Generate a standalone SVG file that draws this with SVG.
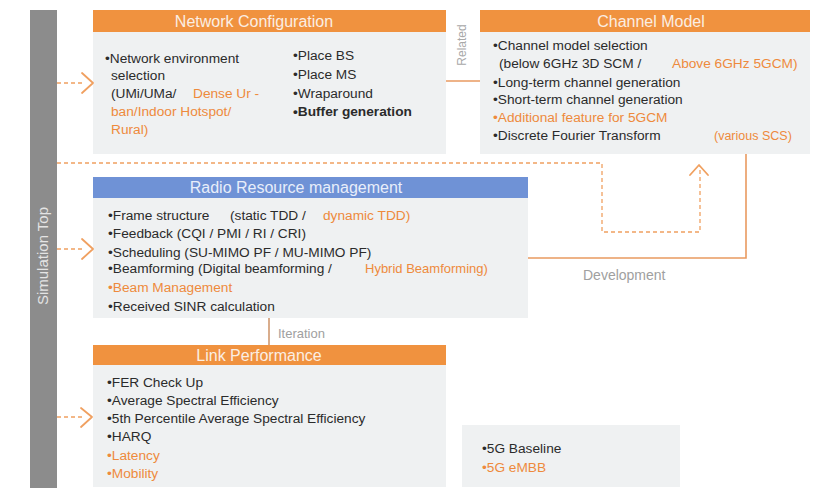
<svg xmlns="http://www.w3.org/2000/svg" width="819" height="491" viewBox="0 0 819 491">
<style>
text{font-family:"Liberation Sans",Arial,sans-serif}
.hd{font-size:16px;fill:#fbeee3;text-anchor:middle}
.hdb{font-size:16px;fill:#e8eefa;text-anchor:middle}
.t{font-size:13.7px;fill:#2b2b2b}
.o{fill:#ee8a3c}
.b{font-weight:bold}
.lbl{font-size:14px;fill:#a0a0a0}
.body{fill:#eff1f2}
.hor{fill:#f0923f}
.dash{fill:none;stroke:#f0a060;stroke-width:1.3;stroke-dasharray:4 3}
.chev{fill:none;stroke:#f0a060;stroke-width:1.8;stroke-linecap:round;stroke-linejoin:round}
.solid{fill:none;stroke:#e99a60;stroke-width:1.6}
</style>
<rect width="819" height="491" fill="#ffffff"/>
<g id="simtop">
<rect x="30" y="10" width="27" height="478" fill="#8c8c8c"/>
<text transform="translate(48,256) rotate(-90)" text-anchor="middle" style="font-size:15px;fill:#e4e4e4">Simulation  Top</text>
</g>
<g id="netconf">
<rect class="hor" x="93" y="10" width="353" height="22"/>
<rect class="body" x="93" y="32" width="353" height="122"/>
<text class="hd" x="254" y="27">Network Configuration</text>
<text class="t" x="105" y="63">•Network environment</text>
<text class="t" x="111" y="80">selection</text>
<text class="t" x="111" y="98">(UMi/UMa/</text>
<text class="t o" x="193" y="98">Dense Ur -</text>
<text class="t o" x="111" y="116">ban/Indoor Hotspot/</text>
<text class="t o" x="111" y="134">Rural)</text>
<text class="t" x="293" y="60">•Place BS</text>
<text class="t" x="293" y="79">•Place MS</text>
<text class="t" x="293" y="98">•Wraparound</text>
<text class="t b" x="293" y="116">•Buffer generation</text>
</g>
<g id="channel">
<rect class="hor" x="480" y="10" width="330" height="22"/>
<rect class="body" x="480" y="32" width="330" height="122"/>
<text class="hd" x="651" y="27">Channel Model</text>
<text class="t" x="493" y="50">•Channel model selection</text>
<text class="t" x="499" y="68">(below 6GHz 3D SCM /</text>
<text class="t o" x="672" y="68">Above 6GHz 5GCM)</text>
<text class="t" x="493" y="87">•Long-term channel generation</text>
<text class="t" x="493" y="104">•Short-term channel generation</text>
<text class="t o" x="493" y="122">•Additional feature for 5GCM</text>
<text class="t" x="493" y="140">•Discrete Fourier Transform</text>
<text class="t o" x="714" y="140" style="font-size:12.5px">(various SCS)</text>
</g>
<g id="rrm">
<rect x="93" y="177" width="435" height="21" fill="#6f92d6"/>
<rect class="body" x="93" y="198" width="435" height="120"/>
<text class="hdb" x="296" y="193">Radio Resource management</text>
<text class="t" x="108" y="220">•Frame structure</text>
<text class="t" x="230" y="220">(static TDD /</text>
<text class="t o" x="323" y="220">dynamic TDD)</text>
<text class="t" x="108" y="238">•Feedback (CQI / PMI / RI / CRI)</text>
<text class="t" x="108" y="257">•Scheduling (SU-MIMO PF / MU-MIMO PF)</text>
<text class="t" x="108" y="273">•Beamforming (Digital beamforming /</text>
<text class="t o" x="365" y="273" style="font-size:13px">Hybrid Beamforming)</text>
<text class="t o" x="108" y="292">•Beam Management</text>
<text class="t" x="108" y="311">•Received SINR calculation</text>
</g>
<g id="link">
<rect class="hor" x="93" y="345" width="353" height="20"/>
<rect class="body" x="93" y="365" width="353" height="122"/>
<text class="hd" x="259" y="361">Link Performance</text>
<text class="t" x="107" y="387">•FER Check Up</text>
<text class="t" x="107" y="405">•Average Spectral Efficiency</text>
<text class="t" x="107" y="423">•5th Percentile Average Spectral Efficiency</text>
<text class="t" x="107" y="441">•HARQ</text>
<text class="t o" x="107" y="460">•Latency</text>
<text class="t o" x="107" y="478">•Mobility</text>
</g>
<g id="legend">
<rect class="body" x="462" y="425" width="218" height="62"/>
<text class="t" x="482" y="453">•5G Baseline</text>
<text class="t o" x="482" y="472">•5G eMBB</text>
</g>
<g id="connectors">
<path class="dash" d="M57,83 H82"/>
<path class="chev" d="M82,73 L93,83 L82,93"/>
<path class="dash" d="M57,249 H82"/>
<path class="chev" d="M82,239 L93,249 L82,259"/>
<path class="dash" d="M57,417 H82"/>
<path class="chev" d="M81,408 L92,417 L81,427"/>
<path class="dash" d="M57,163 H602 V232 H700 V166"/>
<path class="chev" d="M690,175 L699,165 L708,175"/>
<path class="solid" d="M446,81 H480"/>
<path class="solid" d="M528,258 H746 V154"/>
<path d="M269,318 V345" fill="none" stroke="#c98a5c" stroke-width="1.4"/>
<text transform="translate(466,45) rotate(-90)" text-anchor="middle" style="font-size:12px;fill:#a8a8a8">Related</text>
<text x="278" y="338" style="font-size:13px;fill:#a0a0a0">Iteration</text>
<text class="lbl" x="583" y="280">Development</text>
</g>
</svg>
